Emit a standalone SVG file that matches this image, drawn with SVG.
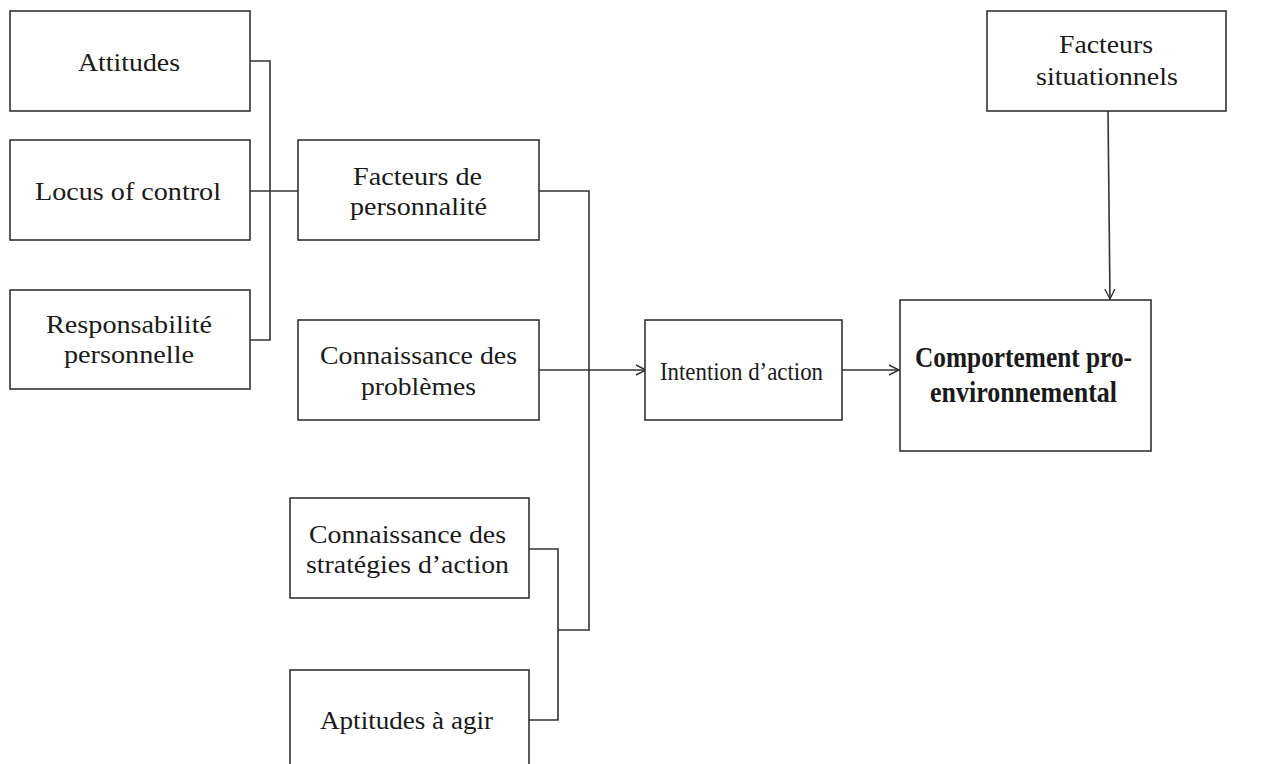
<svg xmlns="http://www.w3.org/2000/svg" width="1264" height="764" viewBox="0 0 1264 764">
<defs>
<style>
.box{fill:#fff;stroke:#333;stroke-width:1.6}
.t{font-family:"Liberation Serif","Times New Roman",serif;font-size:26px;fill:#1a1a1a;text-anchor:middle}
.b{font-family:"Liberation Serif","Times New Roman",serif;font-size:29px;font-weight:bold;fill:#1a1a1a;text-anchor:middle}
.c{fill:none;stroke:#333;stroke-width:1.6}
</style>
<marker id="arr" markerWidth="14" markerHeight="14" refX="12" refY="7" orient="auto" markerUnits="userSpaceOnUse">
<path d="M2,2 L12,7 L2,12" fill="none" stroke="#333" stroke-width="1.4"/>
</marker>
</defs>
<rect width="1264" height="764" fill="#fff"/>
<g id="connectors">
<path class="c" d="M250,61 H270 V340 H250"/>
<path class="c" d="M250,191 H298"/>
<path class="c" d="M539,191 H589 V630 H558"/>
<path class="c" d="M529,549 H558 V720 H529"/>
<path class="c" d="M539,370 H646" marker-end="url(#arr)"/>
<path class="c" d="M842,370 H899" marker-end="url(#arr)"/>
<path class="c" d="M1108,111 L1110,299" marker-end="url(#arr)"/>
</g>
<g id="attitudes"><rect class="box" x="10" y="11" width="240" height="100"/><text class="t" x="129" y="71" textLength="102" lengthAdjust="spacingAndGlyphs">Attitudes</text></g>
<g id="locus"><rect class="box" x="10" y="140" width="240" height="100"/><text class="t" x="128" y="200" textLength="186" lengthAdjust="spacingAndGlyphs">Locus of control</text></g>
<g id="responsabilite"><rect class="box" x="10" y="290" width="240" height="99"/><text class="t" x="129" y="333" textLength="166" lengthAdjust="spacingAndGlyphs">Responsabilité</text><text class="t" x="129" y="363" textLength="130" lengthAdjust="spacingAndGlyphs">personnelle</text></g>
<g id="personnalite"><rect class="box" x="298" y="140" width="241" height="100"/><text class="t" x="417.5" y="185" textLength="129" lengthAdjust="spacingAndGlyphs">Facteurs de</text><text class="t" x="418.5" y="215" textLength="137" lengthAdjust="spacingAndGlyphs">personnalité</text></g>
<g id="problemes"><rect class="box" x="298" y="320" width="241" height="100"/><text class="t" x="418.5" y="364" textLength="197" lengthAdjust="spacingAndGlyphs">Connaissance des</text><text class="t" x="418.5" y="395" textLength="115" lengthAdjust="spacingAndGlyphs">problèmes</text></g>
<g id="strategies"><rect class="box" x="290" y="498" width="239" height="100"/><text class="t" x="407.5" y="543" textLength="197" lengthAdjust="spacingAndGlyphs">Connaissance des</text><text class="t" x="407.5" y="573" textLength="203" lengthAdjust="spacingAndGlyphs">stratégies d’action</text></g>
<g id="aptitudes"><rect class="box" x="290" y="670" width="239" height="110"/><text class="t" x="406.5" y="729" textLength="173" lengthAdjust="spacingAndGlyphs">Aptitudes à agir</text></g>
<g id="intention"><rect class="box" x="645" y="320" width="197" height="100"/><text class="t" x="741.5" y="380" textLength="163" lengthAdjust="spacingAndGlyphs">Intention d’action</text></g>
<g id="comportement"><rect class="box" x="900" y="300" width="251" height="151"/><text class="b" x="1023.5" y="367" textLength="217" lengthAdjust="spacingAndGlyphs">Comportement pro-</text><text class="b" x="1023.5" y="402" textLength="187" lengthAdjust="spacingAndGlyphs">environnemental</text></g>
<g id="situationnels"><rect class="box" x="987" y="11" width="239" height="100"/><text class="t" x="1106" y="53" textLength="94" lengthAdjust="spacingAndGlyphs">Facteurs</text><text class="t" x="1107" y="85" textLength="142" lengthAdjust="spacingAndGlyphs">situationnels</text></g>
</svg>
